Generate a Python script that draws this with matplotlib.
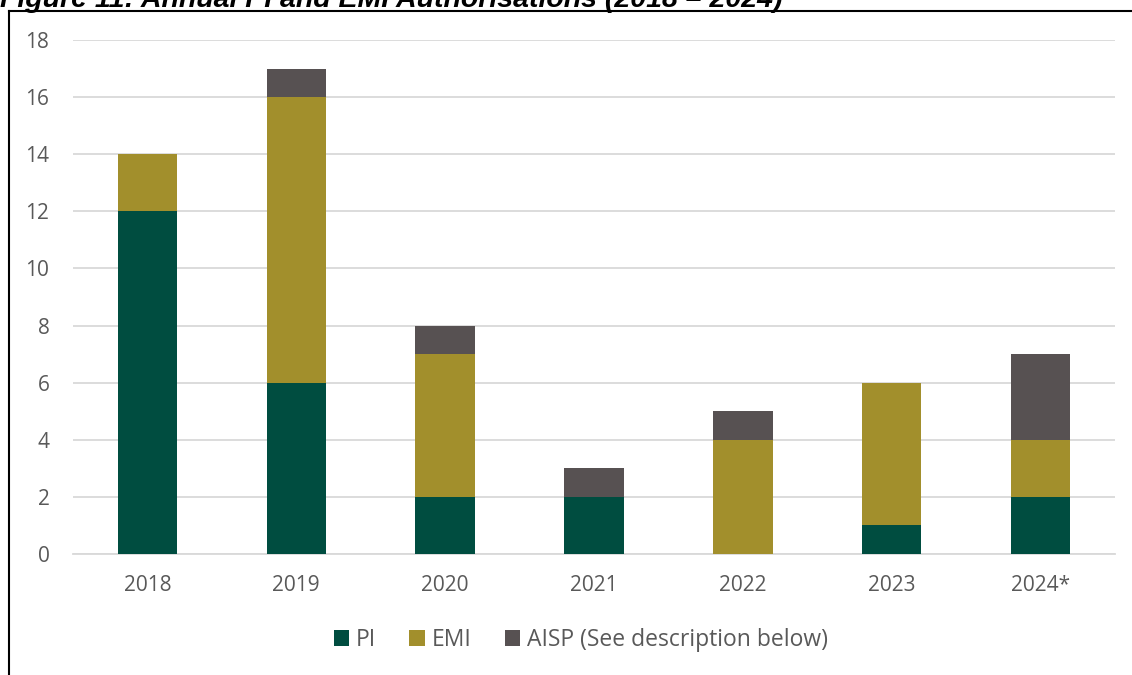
import numpy as np
import matplotlib.pyplot as plt
from matplotlib.lines import Line2D

years = ['2018', '2019', '2020', '2021', '2022', '2023', '2024*']
pi = [12, 6, 2, 2, 0, 1, 2]
emi = [2, 10, 5, 0, 4, 5, 2]
aisp = [0, 1, 1, 1, 1, 0, 3]

colors = {'PI': '#004d40', 'EMI': '#a28f2c', 'AISP': '#575152'}
text_grey = '#595959'

plt.rcParams['font.family'] = ['Open Sans', 'DejaVu Sans']

fig = plt.figure(figsize=(11.32, 6.75), dpi=100)
ax = fig.add_axes([73 / 1132, 1 - 554 / 675, 1042 / 1132, 514 / 675])

x = np.arange(len(years))
pi_arr = np.array(pi)
emi_arr = np.array(emi)
aisp_arr = np.array(aisp)

ax.bar(x, pi_arr, width=0.4, color=colors['PI'], label='PI', zorder=3)
ax.bar(x, emi_arr, width=0.4, bottom=pi_arr, color=colors['EMI'], label='EMI', zorder=3)
ax.bar(x, aisp_arr, width=0.4, bottom=pi_arr + emi_arr, color=colors['AISP'],
       label='AISP (See description below)', zorder=3)

ax.set_xlim(-0.5, len(years) - 0.5)
ax.set_ylim(0, 18)
ax.set_yticks(range(0, 19, 2))
ax.set_xticks(x)
ax.set_xticklabels(years)
ax.grid(axis='y', color='#d9d9d9', linewidth=1.3, zorder=0)
for side in ['top', 'right', 'left']:
    ax.spines[side].set_visible(False)
ax.spines['bottom'].set_color('#d9d9d9')
ax.spines['bottom'].set_linewidth(1.3)
ax.tick_params(axis='both', length=0, labelsize=15, labelcolor=text_grey)
ax.tick_params(axis='x', pad=15)
ax.tick_params(axis='y', pad=17)

ax.legend(loc='center', bbox_to_anchor=(0.4875, -0.167), ncol=3, frameon=False,
          fontsize=16.5, labelcolor=text_grey, handlelength=0.68, handleheight=0.68,
          handletextpad=0.3, columnspacing=1.45)

# frame lines around the figure panel
fig.add_artist(Line2D([8.5 / 1132, 8.5 / 1132], [0, 1 - 11 / 675], color='black', linewidth=1.5))
fig.add_artist(Line2D([8.5 / 1132, 1], [1 - 11 / 675, 1 - 11 / 675], color='black', linewidth=1.5))

fig.text(0, 1 - 7 / 675, 'Figure 11: Annual PI and EMI Authorisations (2018 – 2024)',
         family='Liberation Sans', weight='bold', style='italic', fontsize=20.5,
         va='baseline', ha='left')

fig.savefig('out.png', dpi=100)
